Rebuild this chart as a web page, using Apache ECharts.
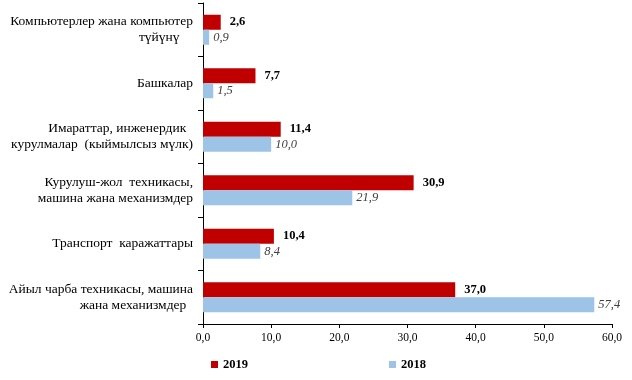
<!DOCTYPE html>
<html><head><meta charset="utf-8">
<script src="https://cdn.jsdelivr.net/npm/echarts@6/dist/echarts.min.js"></script>
<style>html,body{margin:0;padding:0;background:#fff}#c{width:632px;height:380px}</style>
</head><body><div id="c"></div>
<script>
const categories = [
  'Компьютерлер жана компьютер\nтүйүнү    ',
  'Башкалар',
  'Имараттар, инженердик  \nкурулмалар  (кыймылсыз мүлк)',
  'Курулуш-жол  техникасы,\nмашина жана механизмдер',
  'Транспорт  каражаттары',
  'Айыл чарба техникасы, машина\nжана механизмдер  '
];
const values2019 = [2.6, 7.7, 11.4, 30.9, 10.4, 37.0];
const values2018 = [0.9, 1.5, 10.0, 21.9, 8.4, 57.4];
const seriesNames = ['2019', '2018'];
const xTicks = {min: 0, max: 60, interval: 10};

const fmt = v => v.toFixed(1).replace('.', ',');
const font = '"Liberation Serif", "Times New Roman", serif';
const chart = echarts.init(document.getElementById('c'));
chart.setOption({
  animation: false,
  textStyle: {fontFamily: font},
  grid: {left: 203, right: 20, top: 3, bottom: 56, containLabel: false},
  legend: [
    {data: [seriesNames[0]], left: 206, top: 353, itemWidth: 7, itemHeight: 7, icon: 'rect', itemGap: 4,
     itemStyle: {borderWidth: 0},
     textStyle: {fontFamily: font, fontSize: 12.5, fontWeight: 'bold', color: '#000'}},
    {data: [seriesNames[1]], left: 384, top: 353, itemWidth: 7, itemHeight: 7, icon: 'rect',
     itemStyle: {borderWidth: 0},
     textStyle: {fontFamily: font, fontSize: 12.5, fontWeight: 'bold', color: '#000'}}
  ],
  xAxis: {
    type: 'value', min: xTicks.min, max: xTicks.max, interval: xTicks.interval,
    splitLine: {show: false},
    axisLine: {show: true, lineStyle: {color: '#000', width: 1}},
    axisTick: {show: true, length: 4, lineStyle: {color: '#000'}},
    axisLabel: {formatter: v => fmt(v), fontFamily: font, fontSize: 11.5, color: '#000', margin: 8}
  },
  yAxis: {
    type: 'category', data: categories, inverse: true,
    axisLine: {show: true, lineStyle: {color: '#000', width: 1}},
    axisTick: {show: true, length: 5, lineStyle: {color: '#000'}},
    axisLabel: {fontFamily: font, fontSize: 13.5, color: '#000', margin: 10, lineHeight: 16, align: 'right'}
  },
  series: [
    {name: seriesNames[0], type: 'bar', data: values2019, barWidth: 15, barGap: '0%',
     itemStyle: {color: '#C00000'},
     label: {show: true, position: 'right', distance: 9, formatter: p => fmt(p.value),
       fontFamily: font, fontSize: 12.5, fontWeight: 'bold', color: '#000'}},
    {name: seriesNames[1], type: 'bar', data: values2018, barWidth: 15, barGap: '0%',
     itemStyle: {color: '#9DC3E6'},
     label: {show: true, position: 'right', distance: 4, formatter: p => fmt(p.value),
       fontFamily: font, fontSize: 12.5, fontStyle: 'italic', color: '#404040'}}
  ]
});
</script></body></html>
